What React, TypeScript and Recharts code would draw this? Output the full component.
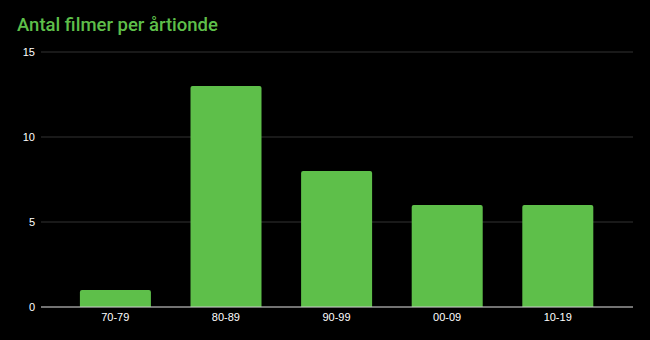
import { BarChart, Bar, XAxis, YAxis, CartesianGrid, ReferenceLine } from 'recharts';

const decades = ['70-79', '80-89', '90-99', '00-09', '10-19'];
const films = [1, 13, 8, 6, 6];
const yTicks = [0, 5, 10, 15];

const data = decades.map((decade, i) => ({ decade, films: films[i] }));

const GREEN = '#5ebf4a';
const tickStyle = { fontSize: 11, fill: '#ffffff', fontFamily: 'Arial, "Liberation Sans", sans-serif' };

export default function App() {
  return (
    <div style={{ position: 'fixed', top: 0, left: 0, width: 650, height: 340, background: '#000' }}>
      <div
        style={{
          position: 'absolute',
          left: 17,
          top: 13,
          color: GREEN,
          fontFamily: 'Roboto, Arial, sans-serif',
          fontWeight: 500,
          fontSize: 18.5,
          lineHeight: '24px',
          whiteSpace: 'nowrap',
        }}
      >
        Antal filmer per årtionde
      </div>
      <BarChart
        width={650}
        height={340}
        data={data}
        margin={{ top: 52, right: 17, bottom: 0, left: 0 }}
        barCategoryGap="18%"
      >
        <CartesianGrid vertical={false} stroke="#333333" />
        <XAxis
          dataKey="decade"
          axisLine={false}
          tickLine={false}
          tickSize={6}
          tickMargin={0}
          padding={{ left: 19, right: 20 }}
          tick={tickStyle}
          height={33}
        />
        <YAxis
          domain={[0, 15]}
          ticks={yTicks}
          axisLine={false}
          tickLine={false}
          tickSize={6}
          tickMargin={0}
          width={41}
          tick={tickStyle}
        />
        <Bar dataKey="films" fill={GREEN} radius={[2, 2, 0, 0]} isAnimationActive={false} />
        <ReferenceLine y={0} stroke="#cccccc" />
      </BarChart>
    </div>
  );
}
